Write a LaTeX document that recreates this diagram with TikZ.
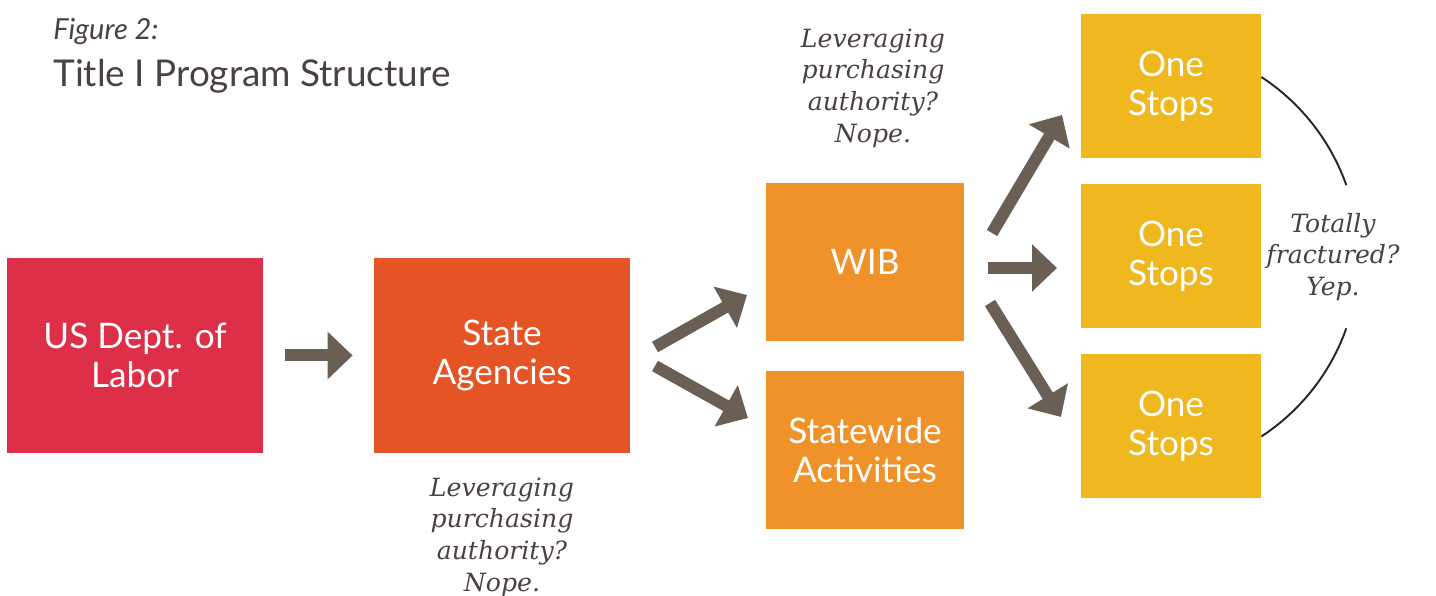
\documentclass[tikz,border=0pt]{standalone}
\usepackage{fontspec}
\setmainfont{Lato}
\newfontfamily\slabfont{DejaVu Serif}
\usetikzlibrary{arrows.meta,calc}
\definecolor{labor}{HTML}{DE2F48}
\definecolor{agency}{HTML}{E45424}
\definecolor{local}{HTML}{F0922A}
\definecolor{stops}{HTML}{EEB81E}
\definecolor{arrowgray}{HTML}{6A5F55}
\definecolor{ink}{HTML}{4A4240}
\tikzstyle{block} = [rectangle, inner sep=0pt, text=white, align=center, font=\fontsize{20}{22}\selectfont]
\tikzstyle{bigblock} = [block, minimum width=51.2mm, minimum height=39mm]
\tikzstyle{midblock} = [block, fill=local, minimum width=39.6mm, minimum height=31.6mm]
\tikzstyle{stopblock} = [block, fill=stops, minimum width=36mm, minimum height=28.8mm]
\tikzstyle{note} = [text=ink, align=center, font=\slabfont\itshape\fontsize{14.3}{18}\selectfont]
\tikzstyle{heading} = [text=ink, anchor=base west, inner sep=0pt]
\tikzstyle{fat} = [line width=2.4mm, draw=arrowgray, -{Triangle[width=9.2mm, length=5mm, fill=arrowgray]}]
\tikzstyle{bracket} = [line width=1.1pt, draw=black!85]

\begin{document}
\begin{tikzpicture}[x=0.2mm, y=0.2mm]
	\useasboundingbox (0,0) rectangle (1436,596);
	\node [heading, font=\itshape\fontsize{16.5}{18}\selectfont] (fig) at (53,556) {Figure 2:};
	\node [heading, font=\fontsize{21}{26}\selectfont] (title) at (53,509) {Title I Program Structure};

	\node [bigblock, fill=labor] (labor) at (135,240.5) {US Dept. of\\Labor};
	\node [bigblock, fill=agency] (state) at (502,240.5) {State\\Agencies};
	\node [midblock] (wib) at (865,334) {WIB};
	\node [midblock] (statewide) at (865,146) {Statewide\\Activities};
	\node [stopblock] (stop1) at (1171,510) {One\\Stops};
	\node [stopblock] (stop2) at (1171,340) {One\\Stops};
	\node [stopblock] (stop3) at (1171,169.5) {One\\Stops};

	\node [note] (statenote) at (502,59) {Leveraging\\purchasing\\authority?\\Nope.};
	\node [note] (wibnote) at (873,508) {Leveraging\\purchasing\\authority?\\Nope.};
	\node [note] (stopnote) at (1333,339) {Totally\\fractured?\\Yep.};

	\coordinate (s1) at (655,249);  \coordinate (e1) at (747,301);
	\coordinate (s2) at (655,230);  \coordinate (e2) at (748,178);
	\coordinate (s3) at (992,363);  \coordinate (e3) at (1062,481);
	\coordinate (s4) at (988,328);  \coordinate (e4) at (1057,328);
	\coordinate (s5) at (990,293);  \coordinate (e5) at (1061,179);

	\draw [fat, shorten <=4.4mm, shorten >=4.2mm] (labor.east) -- (state.west);
	\draw [fat] (s1) -- (e1);
	\draw [fat] (s2) -- (e2);
	\draw [fat] (s3) -- (e3);
	\draw [fat] (s4) -- (e4);
	\draw [fat] (s5) -- (e5);

	\draw [bracket] ($(stop1.east)+(0,9)$) arc [start angle=56.8, end angle=19.5, radius=43mm];
	\draw [bracket] ($(stop3.east)+(0,-10)$) arc [start angle=-56.8, end angle=-19.5, radius=43mm];
\end{tikzpicture}
\end{document}
